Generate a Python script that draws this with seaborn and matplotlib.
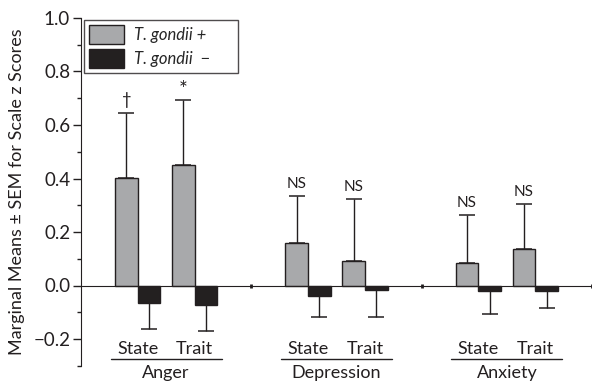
import numpy as np
import pandas as pd
import matplotlib.pyplot as plt
import seaborn as sns
from matplotlib.ticker import MultipleLocator, FormatStrFormatter

# 데이터
scales = ['Anger', 'Depression', 'Anxiety']
measures = ['State', 'Trait']
groups = ['T. gondii +', 'T. gondii  −']

# order: Anger State, Anger Trait, Depression State, Depression Trait, Anxiety State, Anxiety Trait
pos_means = [0.401, 0.449, 0.160, 0.092, 0.083, 0.136]
pos_sem = [0.245, 0.244, 0.176, 0.231, 0.182, 0.168]
neg_means = [-0.065, -0.073, -0.038, -0.018, -0.019, -0.021]
neg_sem = [0.098, 0.096, 0.081, 0.101, 0.086, 0.064]
marks = ['†', '*', 'NS', 'NS', 'NS', 'NS']

gray = '#a7a9ac'
dark = '#231f20'

rows = []
for i, s in enumerate(scales):
    for j, m in enumerate(measures):
        k = i * 2 + j
        x = i * 3 + j
        rows.append({'x': x, 'scale': s, 'measure': m, 'group': groups[0],
                     'mean': pos_means[k], 'sem': pos_sem[k]})
        rows.append({'x': x, 'scale': s, 'measure': m, 'group': groups[1],
                     'mean': neg_means[k], 'sem': neg_sem[k]})
df = pd.DataFrame(rows)

sns.set_style('ticks')
plt.rcParams['font.family'] = ['Lato', 'DejaVu Sans']

fig = plt.figure(figsize=(5.92, 3.83), dpi=100)
ax = fig.add_axes([81 / 592, 1 - 365.75 / 383, 511 / 592, 347.75 / 383])

sns.barplot(data=df, x='x', y='mean', hue='group', native_scale=True,
            palette=[gray, dark], hue_order=groups, errorbar=None,
            width=0.8, edgecolor=dark, linewidth=1, ax=ax, zorder=2)

xs = df['x'].drop_duplicates().to_numpy()
# 오차막대 (한쪽 방향만)
ax.errorbar(xs - 0.2, pos_means, yerr=[np.zeros(6), pos_sem], fmt='none',
            ecolor=dark, elinewidth=1, capsize=5.8, capthick=1.1, zorder=1)
ax.errorbar(xs + 0.2, neg_means, yerr=[neg_sem, np.zeros(6)], fmt='none',
            ecolor=dark, elinewidth=1, capsize=5.8, capthick=1.1, zorder=1)

for x, m, s, t in zip(xs, pos_means, pos_sem, marks):
    if t == '†':
        fs, dy = 12, 0.018
    elif t == '*':
        fs, dy = 15, 0.0
    else:
        fs, dy = 11, 0.018
    ax.text(x - 0.2, m + s + dy, t, ha='center', va='bottom', fontsize=fs,
            color=dark)

ax.set_xlim(-1, 8)
ax.set_ylim(-0.3, 1.0)
ax.yaxis.set_major_locator(MultipleLocator(0.2))
ax.yaxis.set_minor_locator(MultipleLocator(0.1))
ax.yaxis.set_major_formatter(FormatStrFormatter('%.1f'))
ax.tick_params(axis='y', which='major', length=5.8, width=1, labelsize=13.5,
               color=dark, labelcolor=dark, pad=2)
ax.tick_params(axis='y', which='minor', length=2.9, width=1, color=dark)
ax.set_yticklabels([f'{v:.1f}'.replace('-', '\u2212') for v in ax.get_yticks()])

ax.spines['top'].set_visible(False)
ax.spines['right'].set_visible(False)
ax.spines['bottom'].set_position(('data', 0))
ax.spines['left'].set_color(dark)
ax.spines['bottom'].set_color(dark)
ax.set_xticks([2, 5, 8])
ax.set_xticklabels([])
ax.tick_params(axis='x', direction='inout', length=3, width=2, color=dark)

ax.set_xlabel('')
ax.set_ylabel('')
fig.text(17 / 592, 1 - 192 / 383, 'Marginal Means ± SEM for Scale z Scores',
         rotation=90, ha='center', va='center', fontsize=13, color=dark)

# 카테고리 라벨
for i, s in enumerate(scales):
    for j, m in enumerate(measures):
        ax.text(i * 3 + j, -0.237, m, ha='center', va='center', fontsize=13,
                color=dark)
    ax.plot([i * 3 - 0.48, i * 3 + 1.48], [-0.275, -0.275], color=dark,
            lw=1, clip_on=False)
    ax.text(i * 3 + 0.5, -0.327, s, ha='center', va='center', fontsize=13,
            color=dark, clip_on=False)

h, l = ax.get_legend_handles_labels()
leg = ax.legend(h, l, loc='upper left', mode='expand',
                bbox_to_anchor=(3 / 511, 0, 154 / 511, 0.994),
                borderaxespad=0, prop={'style': 'italic', 'size': 12},
                frameon=True, fancybox=False, edgecolor=dark,
                handlelength=2.1, handleheight=1.4, borderpad=0.3,
                labelspacing=0.25, handletextpad=0.6)
leg.get_frame().set_linewidth(1)

plt.savefig('out.png', dpi=100)
